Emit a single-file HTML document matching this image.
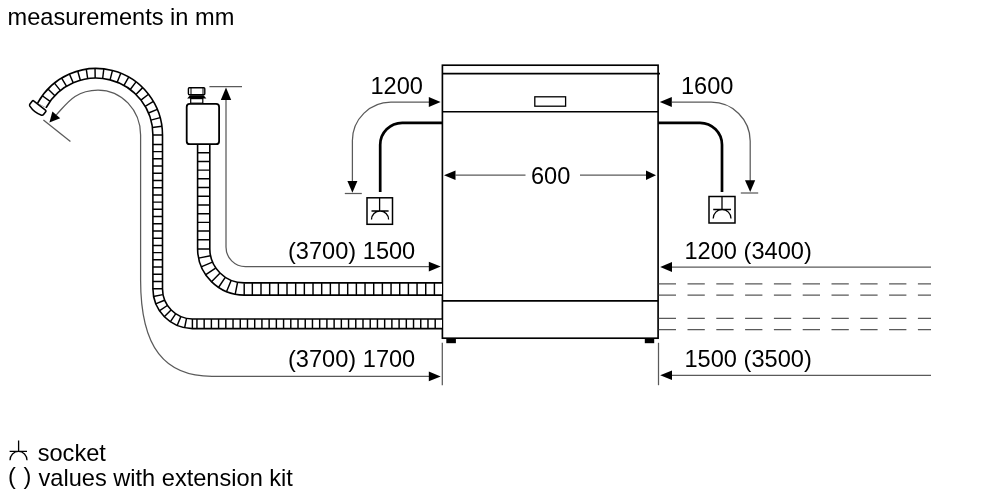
<!DOCTYPE html>
<html><head><meta charset="utf-8">
<style>
html,body{margin:0;padding:0;background:#fff;width:1000px;height:500px;overflow:hidden}
svg{display:block;font-family:"Liberation Sans",sans-serif;will-change:transform}
</style></head><body>
<svg width="1000" height="500" viewBox="0 0 1000 500">
<rect width="1000" height="500" fill="#fff"/>
<g font-size="23.6" fill="#000">
<text x="7.5" y="25">measurements in mm</text>
<text x="370.5" y="94.1">1200</text>
<text x="681" y="94.1">1600</text>
<text x="531" y="183.5">600</text>
<text x="288" y="259.2">(3700) 1500</text>
<text x="288" y="366.8">(3700) 1700</text>
<text x="684.5" y="259.2">1200 (3400)</text>
<text x="684.5" y="366.6">1500 (3500)</text>
<text x="37.7" y="461.4">socket</text>
<text x="8" y="484.1">(</text><text x="23.6" y="484.1">)</text><text x="38.5" y="485.5">values with extension kit</text>
</g>

<!-- dishwasher body -->
<g fill="none" stroke="#000" stroke-width="1.65">
<rect x="442.4" y="65.2" width="215.7" height="273"/>
<line x1="442.4" y1="73.6" x2="660" y2="73.6"/>
<line x1="442.4" y1="111.7" x2="658" y2="111.7"/>
<line x1="442.4" y1="300.8" x2="658" y2="300.8"/>
</g>
<rect x="534.8" y="96.8" width="30.8" height="9.4" fill="none" stroke="#000" stroke-width="1.3"/>
<rect x="446.3" y="338" width="9.6" height="5.2" fill="#000"/>
<rect x="644.8" y="338" width="9.4" height="5.2" fill="#000"/>

<!-- pipes -->
<g fill="none" stroke="#000" stroke-width="2.7">
<path d="M442.5,122.8 H402.2 A22,22 0 0 0 380.2,144.8 V192"/>
<path d="M658,122.8 H700 A22,22 0 0 1 722,144.8 V192"/>
</g>

<!-- sockets -->
<g fill="none" stroke="#000" stroke-width="1.5">
<rect x="367" y="197.8" width="25.5" height="26.5"/>
<rect x="709" y="196.5" width="26" height="26.5"/>
</g>
<g fill="none" stroke="#000" stroke-width="1.3">
<path d="M379.6,198 V211 M371.5,211 H388.6 M371.5,219.5 A8.55,8.5 0 0 1 388.6,219.5"/>
<path d="M722,197 V209.5 M713.2,209.5 H731 M713.2,218.5 A8.9,9 0 0 1 731,218.5"/>
<path d="M18.6,440.4 V451.3 M9.6,451.3 H27 M10,460.3 A8.5,9 0 0 1 27,460.3"/>
</g>

<!-- thin dimension lines -->
<g fill="none" stroke="#5a5a5a" stroke-width="1.25">
<path d="M429,102.2 H391 A38.5,38.5 0 0 0 352.4,140.5 V181"/>
<path d="M672,102.2 H711 A39,39 0 0 1 750.2,141 V181"/>
<line x1="344.8" y1="193.5" x2="361.8" y2="193.5"/>
<line x1="740.8" y1="193" x2="758.2" y2="193"/>
<line x1="455.5" y1="175.2" x2="525.5" y2="175.2"/>
<line x1="580" y1="175.2" x2="646" y2="175.2"/>
<!-- 1500 left -->
<path d="M226,100 V247 A19.5,19.5 0 0 0 245.5,266.6 H429"/>
<line x1="209.4" y1="86.6" x2="242" y2="86.6"/>
<!-- 1700 left -->
<path d="M56.3,114.9 C66.5,103.9 75,90 98,90 C121.5,90 140.6,110.1 140.6,135 V280 C140.6,348 165,376.4 212,376.4 H429"/>
<line x1="43.4" y1="120" x2="70.4" y2="141.6"/>
<!-- extension lines -->
<line x1="442.3" y1="342.8" x2="442.3" y2="385.2"/>
<line x1="658.5" y1="342.8" x2="658.5" y2="385.2"/>
<!-- right dims -->
<line x1="672" y1="267" x2="931" y2="267"/>
<line x1="672" y1="375.3" x2="931" y2="375.3"/>
<g stroke-dasharray="17.3 11.5">
<line x1="658.7" y1="283.8" x2="931" y2="283.8"/>
<line x1="658.7" y1="295" x2="931" y2="295"/>
<line x1="658.7" y1="318.3" x2="931" y2="318.3"/>
<line x1="658.7" y1="329.5" x2="931" y2="329.5"/>
</g>
</g>

<!-- arrowheads -->
<g fill="#000">
<polygon points="440.6,102 428.8,97.1 428.8,106.9"/>
<polygon points="659.8,102 671.8,97.1 671.8,106.9"/>
<polygon points="352.4,192.8 347.4,181 357.4,181"/>
<polygon points="750.2,192 745,180.2 755.2,180.2"/>
<polygon points="444,175.2 455.5,170.5 455.5,180"/>
<polygon points="656,175.2 646,170.5 646,180"/>
<polygon points="440.7,266.6 428.8,261.7 428.8,271.5"/>
<polygon points="440.7,376.4 428.8,371.6 428.8,381.2"/>
<polygon points="660.2,267 672,262.1 672,271.9"/>
<polygon points="660.2,375.3 672,370.5 672,380.1"/>
<polygon points="226,87.5 220.8,100 231.2,100"/>
<polygon points="49.4,122.4 52.4,111.6 60.2,118.2"/>
</g>

<!-- hoses -->
<path d="M442,289 H244.2 A40.5,40.5 0 0 1 203.7,249 V145" fill="none" stroke="#000" stroke-width="13.8"/>
<path d="M442,289 H244.2 A40.5,40.5 0 0 1 203.7,249 V145" fill="none" stroke="#fff" stroke-width="10.6"/>
<path d="M434.4,295.1L434.4,282.9M425.73,295.1L425.73,282.9M417.06,295.1L417.06,282.9M408.39,295.1L408.39,282.9M399.72,295.1L399.72,282.9M391.05,295.1L391.05,282.9M382.38,295.1L382.38,282.9M373.71,295.1L373.71,282.9M365.04,295.1L365.04,282.9M356.37,295.1L356.37,282.9M347.7,295.1L347.7,282.9M339.03,295.1L339.03,282.9M330.36,295.1L330.36,282.9M321.69,295.1L321.69,282.9M313.02,295.1L313.02,282.9M304.35,295.1L304.35,282.9M295.68,295.1L295.68,282.9M287.01,295.1L287.01,282.9M278.34,295.1L278.34,282.9M269.67,295.1L269.67,282.9M261,295.1L261,282.9M252.33,295.1L252.33,282.9M244.2,283.4L244.2,295.6M237.49,282.74L235.11,294.7M231.04,280.78L226.37,292.05M225.09,277.6L218.31,287.75M219.88,273.32L211.25,281.95M215.6,268.11L205.45,274.89M212.42,262.16L201.15,266.83M210.46,255.71L198.5,258.09M209.8,249L197.6,249M209.8,239.79L197.6,239.79M209.8,231.08L197.6,231.08M209.8,222.37L197.6,222.37M209.8,213.66L197.6,213.66M209.8,204.95L197.6,204.95M209.8,196.24L197.6,196.24M209.8,187.53L197.6,187.53M209.8,178.82L197.6,178.82M209.8,170.11L197.6,170.11M209.8,161.4L197.6,161.4M209.8,152.69L197.6,152.69" fill="none" stroke="#000" stroke-width="1.45"/>
<path d="M442,323.8 H192.4 A35,35 0 0 1 157.7,288.7 V135 A61.7,61.7 0 0 0 41.83,105.46" fill="none" stroke="#000" stroke-width="11.2"/>
<path d="M442,323.8 H192.4 A35,35 0 0 1 157.7,288.7 V135 A61.7,61.7 0 0 0 41.83,105.46" fill="none" stroke="#fff" stroke-width="8"/>
<path d="M435.2,328.6L435.2,319M427.98,328.6L427.98,319M420.76,328.6L420.76,319M413.54,328.6L413.54,319M406.32,328.6L406.32,319M399.1,328.6L399.1,319M391.88,328.6L391.88,319M384.66,328.6L384.66,319M377.44,328.6L377.44,319M370.22,328.6L370.22,319M363,328.6L363,319M355.78,328.6L355.78,319M348.56,328.6L348.56,319M341.34,328.6L341.34,319M334.12,328.6L334.12,319M326.9,328.6L326.9,319M319.68,328.6L319.68,319M312.46,328.6L312.46,319M305.24,328.6L305.24,319M298.02,328.6L298.02,319M290.8,328.6L290.8,319M283.58,328.6L283.58,319M276.36,328.6L276.36,319M269.14,328.6L269.14,319M261.92,328.6L261.92,319M254.7,328.6L254.7,319M247.48,328.6L247.48,319M240.26,328.6L240.26,319M233.04,328.6L233.04,319M225.82,328.6L225.82,319M218.6,328.6L218.6,319M211.38,328.6L211.38,319M204.16,328.6L204.16,319M196.94,328.6L196.94,319M192.4,318.9L192.4,328.5M186.51,318.32L184.64,327.74M180.84,316.6L177.17,325.47M175.62,313.81L170.29,321.79M171.05,310.05L164.26,316.84M167.29,305.48L159.31,310.81M164.5,300.26L155.63,303.93M162.78,294.59L153.36,296.46M162.2,288.7L152.6,288.7M162.5,281.49L152.9,281.49M162.5,274.27L152.9,274.27M162.5,267.06L152.9,267.06M162.5,259.84L152.9,259.84M162.5,252.62L152.9,252.62M162.5,245.41L152.9,245.41M162.5,238.19L152.9,238.19M162.5,230.98L152.9,230.98M162.5,223.76L152.9,223.76M162.5,216.55L152.9,216.55M162.5,209.33L152.9,209.33M162.5,202.12L152.9,202.12M162.5,194.9L152.9,194.9M162.5,187.69L152.9,187.69M162.5,180.47L152.9,180.47M162.5,173.26L152.9,173.26M162.5,166.04L152.9,166.04M162.5,158.83L152.9,158.83M162.5,151.61L152.9,151.61M162.5,144.4L152.9,144.4M152.9,135L162.5,135M152.4,127.5L161.92,126.24M150.93,120.14L160.19,117.63M148.49,113.03L157.34,109.33M145.14,106.31L153.43,101.47M140.93,100.09L148.51,94.2M135.94,94.47L142.68,87.63M130.25,89.56L136.03,81.9M123.97,85.45L128.69,77.09M117.2,82.2L120.77,73.29M110.05,79.86L112.43,70.56M102.67,78.49L103.79,68.96M95.17,78.11L95.03,68.51M87.68,78.71L86.27,69.22M80.34,80.3L77.69,71.07M73.27,82.84L69.43,74.04M66.59,86.29L61.63,78.07M60.43,90.59L54.43,83.09M54.89,95.66L47.95,89.02M50.07,101.42L42.32,95.75" fill="none" stroke="#000" stroke-width="1.45"/>

<!-- hose 2 end cap -->
<g transform="translate(37.6,108.2) rotate(38)">
<path d="M-7.3,-3.4 L7.3,-3.4 Q8.6,-3.4 8.6,-2.1 L8.6,1.4 Q8.6,2.6 7.4,3.1 Q0,5.6 -7.4,3.1 Q-8.6,2.6 -8.6,1.4 L-8.6,-2.1 Q-8.6,-3.4 -7.3,-3.4 Z" fill="#fff" stroke="#000" stroke-width="1.6"/>
</g>

<!-- inlet valve box -->
<rect x="186.7" y="103.9" width="32.4" height="40.3" rx="3" fill="#fff" stroke="#000" stroke-width="1.8"/>
<rect x="190.7" y="98.6" width="12.1" height="4.6" fill="#fff" stroke="#000" stroke-width="1.2"/>
<path d="M187.2,98.6 L206.4,98.6 L203.5,95.3 L190,95.3 Z" fill="#000"/>
<rect x="188.4" y="87.8" width="16.4" height="7" rx="1" fill="#fff" stroke="#000" stroke-width="1.4"/>
<line x1="191" y1="88" x2="191" y2="94.5" stroke="#000" stroke-width="1"/>
<line x1="203" y1="88" x2="203" y2="94.5" stroke="#000" stroke-width="1"/>
</svg>
</body></html>
